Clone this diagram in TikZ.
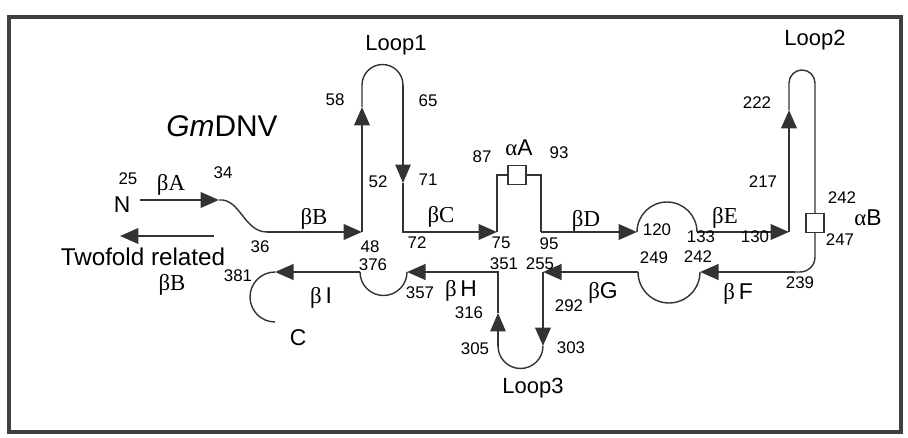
\documentclass[tikz,border=0pt]{standalone}
\usepackage{fontspec}
\setmainfont{Liberation Sans}
\newfontfamily\grk{Liberation Serif}
\usetikzlibrary{arrows.meta}

\begin{document}
\begin{tikzpicture}[x=0.02cm,y=-0.02cm,
  >={Triangle[length=0.37cm,width=0.31cm]},
  strand/.style={draw=black!80,line width=1.4pt},
  loopline/.style={draw=black!80,line width=0.8pt},
  num/.style={font=\fontsize{9.6}{10}\selectfont,inner sep=0pt},
  lbl/.style={font=\fontsize{13}{14}\selectfont,inner sep=0pt},
  looplbl/.style={font=\fontsize{12.5}{14}\selectfont,inner sep=0pt},
  helix/.style={draw=black!80,line width=0.8pt,fill=white,minimum width=0.36cm,minimum height=0.38cm,inner sep=0pt}]
\useasboundingbox (0,0) rectangle (908,438);
\draw[line width=2.4pt,black!75] (9,17) rectangle (901,432);

\node[inner sep=0pt,font=\fontsize{17}{18}\selectfont] (title) at (222,126) {\textit{Gm}DNV};
\node[looplbl] (loop1) at (396,45) {Loop1};
\node[looplbl] (loop2) at (815,40) {Loop2};
\node[looplbl] (loop3) at (533,388) {Loop3};

\coordinate (nA) at (140,200);
\coordinate (eA) at (219,200);
\coordinate (sB) at (267,232);
\coordinate (eB) at (362,232);
\coordinate (tw1) at (214,236);
\coordinate (tw2) at (120,236);
\coordinate (l1a) at (362,107);
\coordinate (l1b) at (362,85);
\coordinate (l1c) at (403,85);
\coordinate (l1d) at (403,183);
\coordinate (sC) at (403,232);
\coordinate (eC) at (497,232);
\coordinate (aA1) at (497,175);
\node[helix] (helixA) at (517,175) {};
\coordinate (aA2) at (541,175);
\coordinate (sD) at (541,232);
\coordinate (eD) at (637,232);
\coordinate (sE) at (697,232);
\coordinate (eE) at (789,232);
\coordinate (l2a) at (789,110);
\coordinate (l2b) at (789,83);
\node[helix] (helixB) at (815,223) {};
\coordinate (sF) at (795,272);
\coordinate (eF) at (700,272);
\coordinate (sG) at (638,272);
\coordinate (eG) at (543,272);
\coordinate (l3a) at (543,346);
\coordinate (l3c) at (498,346);
\coordinate (l3b) at (498,313);
\coordinate (sH) at (498,272);
\coordinate (eH) at (407,272);
\coordinate (sI) at (360,272);
\coordinate (eI) at (275,272);

\draw[strand,->] (nA) -- (eA);
\draw[loopline] (eA) .. controls (240,198) and (244,232) .. (sB);
\draw[strand,->] (sB) -- (eB);
\draw[strand,->] (tw1) -- (tw2);
\draw[strand,->] (eB) -- (l1a);
\draw[loopline] (l1a) -- (l1b) arc[start angle=180,end angle=0,radius=0.41cm];
\draw[loopline,->] (l1c) -- (l1d);
\draw[strand,->] (l1d) -- (sC) -- (eC);
\draw[loopline] (eC) -- (aA1) -- (helixA.west);
\draw[loopline] (helixA.east) -- (aA2) -- (sD);
\draw[strand,->] (sD) -- (eD);
\draw[loopline] (eD) arc[start angle=180,end angle=0,radius=0.6cm];
\draw[strand,->] (sE) -- (eE);
\draw[strand,->] (eE) -- (l2a);
\draw[loopline] (l2a) -- (l2b) arc[start angle=180,end angle=0,radius=0.26cm] -- (helixB.north);
\draw[loopline,rounded corners=0.3cm] (helixB.south) |- (sF);
\draw[strand,->] (sF) -- (eF);
\draw[loopline] (eF) arc[start angle=0,end angle=-180,radius=0.62cm];
\draw[strand,->] (sG) -- (eG);
\draw[strand,->] (eG) -- (l3a);
\draw[loopline] (l3a) arc[start angle=0,end angle=-180,radius=0.45cm];
\draw[loopline,->] (l3c) -- (l3b);
\draw[strand,->] (l3b) -- (sH) -- (eH);
\draw[loopline] (eH) arc[start angle=0,end angle=-180,radius=0.47cm];
\draw[strand,->] (sI) -- (eI);
\draw[loopline] (eI) arc[start angle=90,end angle=270,radius=0.5cm];

\node[lbl] (nterm) at (122,205) {N};
\node[lbl] (cterm) at (298,338) {C};
\node[lbl] (bA) at (171,185) {\grk βA};
\node[lbl] (bB) at (314,219) {\grk βB};
\node[lbl] (bC) at (441,217) {\grk βC};
\node[lbl] (bD) at (586,221) {\grk βD};
\node[lbl] (bE) at (725,218) {\grk βE};
\node[lbl] (bF) at (738,294) {{\grk β}\,F};
\node[lbl] (bG) at (603,293) {{\grk β}G};
\node[lbl] (bH) at (461,291) {{\grk β}\,H};
\node[lbl] (bI) at (321,298) {{\grk β}\,I};
\node[lbl] (aA) at (519,148) {{\grk α}A};
\node[lbl] (aB) at (868,218) {{\grk α}B};
\node[lbl,font=\fontsize{13.8}{15}\selectfont] (tf) at (143,257) {Twofold related};
\node[lbl] (tfB) at (172,285) {\grk βB};

\node[num] (n25) at (128,179) {25};
\node[num] (n34) at (223,173) {34};
\node[num] (n36) at (260,247) {36};
\node[num] (n48) at (370,247) {48};
\node[num] (n376) at (373,265) {376};
\node[num] (n52) at (378,182) {52};
\node[num] (n58) at (335,100) {58};
\node[num] (n65) at (428,101) {65};
\node[num] (n71) at (428,180) {71};
\node[num] (n72) at (417,243) {72};
\node[num] (n75) at (501,243) {75};
\node[num] (n87) at (482,157) {87};
\node[num] (n93) at (559,153) {93};
\node[num] (n95) at (549,244) {95};
\node[num] (n351) at (504,264) {351};
\node[num] (n255) at (540,264) {255};
\node[num] (n120) at (657,230) {120};
\node[num] (n133) at (701,237) {133};
\node[num] (n130) at (755,237) {130};
\node[num] (n217) at (763,182) {217};
\node[num] (n222) at (757,103) {222};
\node[num] (n242a) at (842,198) {242};
\node[num] (n247) at (840,240) {247};
\node[num] (n239) at (800,283) {239};
\node[num] (n249) at (654,258) {249};
\node[num] (n242b) at (698,257) {242};
\node[num] (n381) at (238,276) {381};
\node[num] (n357) at (420,293) {357};
\node[num] (n316) at (469,313) {316};
\node[num] (n305) at (475,349) {305};
\node[num] (n303) at (571,348) {303};
\node[num] (n292) at (569,306) {292};
\end{tikzpicture}
\end{document}
